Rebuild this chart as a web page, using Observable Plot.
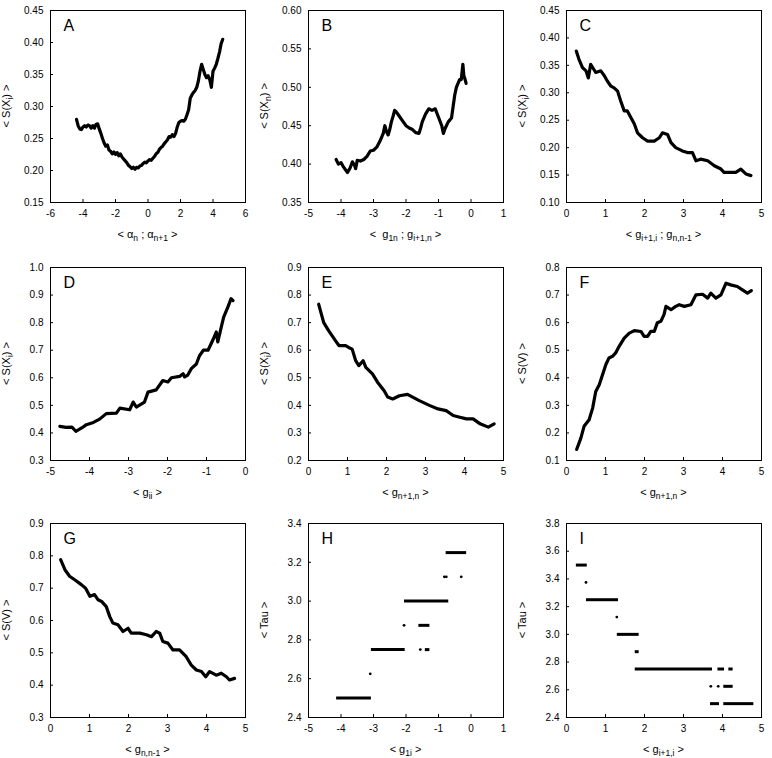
<!DOCTYPE html>
<html><head><meta charset="utf-8">
<script src="https://cdn.jsdelivr.net/npm/d3@7"></script>
<script src="https://cdn.jsdelivr.net/npm/@observablehq/plot@0.6"></script>
<style>
body{margin:0;background:#fff;}
#root{position:relative;width:772px;height:758px;background:#fff;}
.panel{position:absolute;}
</style></head>
<body><div id="root"></div>
<script>
// ---- tick values ----
const ticksX6 = [-6,-4,-2,0,2,4,6];
const ticksXneg5p1 = [-5,-4,-3,-2,-1,0,1];
const ticksXneg5 = [-5,-4,-3,-2,-1,0];
const ticksX05 = [0,1,2,3,4,5];
const ticksYA = [0.15,0.20,0.25,0.30,0.35,0.40,0.45];
const ticksYB = [0.35,0.40,0.45,0.50,0.55,0.60];
const ticksYC = [0.10,0.15,0.20,0.25,0.30,0.35,0.40,0.45];
const ticksYD = [0.3,0.4,0.5,0.6,0.7,0.8,0.9,1.0];
const ticksYE = [0.2,0.3,0.4,0.5,0.6,0.7,0.8,0.9];
const ticksYF = [0.1,0.2,0.3,0.4,0.5,0.6,0.7,0.8];
const ticksYG = [0.3,0.4,0.5,0.6,0.7,0.8,0.9];
const ticksYH = [2.4,2.6,2.8,3.0,3.2,3.4];
const ticksYI = [2.4,2.6,2.8,3.0,3.2,3.4,3.6,3.8];

// ---- panel A ----
const aX = [-4.40,-4.30,-4.20,-4.10,-4.00,-3.90,-3.80,-3.70,-3.60,-3.50,-3.40,-3.30,-3.20,-3.10,-3.00,-2.90,-2.80,-2.70,-2.60,-2.50,-2.40,-2.30,-2.20,-2.10,-2.00,-1.90,-1.80,-1.70,-1.60,-1.50,-1.40,-1.30,-1.20,-1.10,-1.00,-0.90,-0.80,-0.70,-0.60,-0.50,-0.40,-0.30,-0.20,-0.10,0.00,0.10,0.20,0.30,0.40,0.50,0.60,0.70,0.80,0.90,1.00,1.10,1.20,1.30,1.40,1.50,1.60,1.70,1.80,1.90,2.00,2.10,2.20,2.30,2.40,2.50,2.60,2.70,2.80,2.90,3.00,3.10,3.20,3.30,3.40,3.50,3.60,3.70,3.80,3.90,4.00,4.10,4.20,4.30,4.40,4.50,4.60];
const aY = [0.280,0.270,0.265,0.264,0.268,0.270,0.268,0.271,0.270,0.266,0.270,0.266,0.272,0.273,0.265,0.258,0.250,0.243,0.238,0.240,0.232,0.230,0.226,0.229,0.225,0.228,0.223,0.226,0.221,0.218,0.215,0.212,0.208,0.206,0.203,0.205,0.202,0.205,0.204,0.207,0.208,0.211,0.213,0.212,0.215,0.217,0.216,0.219,0.222,0.226,0.228,0.233,0.236,0.238,0.242,0.245,0.248,0.253,0.252,0.256,0.253,0.258,0.268,0.275,0.277,0.278,0.277,0.280,0.287,0.295,0.313,0.318,0.322,0.325,0.330,0.340,0.355,0.366,0.358,0.350,0.345,0.348,0.342,0.330,0.355,0.360,0.366,0.375,0.385,0.398,0.405];

// ---- panel B ----
const bX = [-4.15,-4.08,-4.00,-3.92,-3.85,-3.80,-3.72,-3.65,-3.58,-3.55,-3.50,-3.40,-3.30,-3.20,-3.10,-3.00,-2.90,-2.80,-2.70,-2.65,-2.60,-2.55,-2.50,-2.45,-2.40,-2.35,-2.30,-2.20,-2.10,-2.00,-1.90,-1.80,-1.70,-1.60,-1.55,-1.50,-1.40,-1.30,-1.20,-1.10,-1.00,-0.90,-0.85,-0.80,-0.70,-0.60,-0.55,-0.50,-0.45,-0.40,-0.35,-0.30,-0.25,-0.22,-0.18,-0.15];
const bY = [0.406,0.400,0.402,0.396,0.392,0.389,0.395,0.403,0.398,0.394,0.405,0.404,0.406,0.410,0.417,0.418,0.422,0.430,0.440,0.450,0.442,0.438,0.445,0.455,0.462,0.470,0.468,0.462,0.456,0.450,0.447,0.445,0.441,0.440,0.447,0.455,0.465,0.472,0.470,0.472,0.461,0.450,0.440,0.446,0.455,0.460,0.475,0.490,0.500,0.505,0.510,0.510,0.530,0.515,0.510,0.505];

// ---- panel C ----
const cX = [0.25,0.32,0.41,0.50,0.56,0.62,0.75,0.88,0.97,1.05,1.14,1.22,1.31,1.39,1.48,1.56,1.65,1.74,1.82,1.95,2.08,2.25,2.38,2.46,2.59,2.68,2.80,2.97,3.10,3.23,3.32,3.44,3.62,3.79,3.96,4.04,4.21,4.34,4.47,4.60,4.73];
const cY = [0.376,0.361,0.346,0.340,0.327,0.352,0.337,0.340,0.331,0.321,0.312,0.309,0.303,0.285,0.267,0.267,0.255,0.243,0.227,0.218,0.212,0.212,0.218,0.227,0.224,0.209,0.200,0.194,0.191,0.191,0.176,0.179,0.176,0.167,0.161,0.155,0.155,0.155,0.161,0.152,0.149];

// ---- panel D ----
const dX = [-4.76,-4.60,-4.45,-4.35,-4.20,-4.08,-3.90,-3.74,-3.57,-3.31,-3.22,-2.97,-2.88,-2.80,-2.59,-2.50,-2.29,-2.12,-1.99,-1.90,-1.69,-1.60,-1.56,-1.48,-1.39,-1.26,-1.18,-1.08,-0.96,-0.84,-0.75,-0.71,-0.62,-0.56,-0.45,-0.37,-0.32];
const dY = [0.424,0.420,0.421,0.406,0.418,0.430,0.438,0.450,0.470,0.472,0.490,0.484,0.512,0.494,0.512,0.548,0.556,0.590,0.585,0.600,0.605,0.615,0.603,0.610,0.633,0.650,0.680,0.700,0.700,0.736,0.766,0.730,0.785,0.820,0.857,0.887,0.880];

// ---- panel E ----
const eX = [0.26,0.33,0.39,0.52,0.69,0.78,0.95,1.03,1.12,1.21,1.29,1.40,1.47,1.64,1.77,1.94,2.03,2.16,2.33,2.54,2.67,2.84,3.10,3.32,3.53,3.71,3.88,4.05,4.22,4.40,4.61,4.76];
const eY = [0.767,0.731,0.700,0.670,0.635,0.617,0.617,0.610,0.604,0.562,0.544,0.562,0.538,0.514,0.484,0.453,0.430,0.423,0.435,0.440,0.430,0.417,0.400,0.387,0.381,0.363,0.357,0.351,0.351,0.333,0.321,0.333];

// ---- panel F ----
const fX = [0.26,0.37,0.45,0.58,0.67,0.75,0.84,1.01,1.09,1.18,1.26,1.35,1.48,1.61,1.74,1.91,1.99,2.08,2.16,2.25,2.33,2.42,2.50,2.55,2.68,2.80,2.89,3.02,3.19,3.32,3.49,3.62,3.70,3.83,3.96,4.09,4.21,4.38,4.51,4.64,4.74];
const fY = [0.140,0.182,0.224,0.248,0.290,0.350,0.375,0.448,0.472,0.478,0.490,0.514,0.544,0.562,0.571,0.568,0.550,0.550,0.568,0.568,0.600,0.605,0.629,0.659,0.647,0.659,0.665,0.659,0.665,0.701,0.703,0.689,0.707,0.689,0.701,0.743,0.737,0.731,0.719,0.707,0.716];

// ---- panel G ----
const gX = [0.26,0.37,0.49,0.62,0.79,0.90,1.01,1.13,1.22,1.31,1.43,1.52,1.60,1.73,1.86,1.99,2.07,2.29,2.46,2.59,2.71,2.80,2.88,3.01,3.14,3.31,3.48,3.61,3.74,3.87,3.98,4.08,4.25,4.38,4.51,4.59,4.72];
const gY = [0.788,0.757,0.737,0.726,0.711,0.700,0.675,0.680,0.664,0.659,0.643,0.612,0.592,0.587,0.566,0.576,0.561,0.561,0.556,0.550,0.566,0.561,0.535,0.530,0.509,0.509,0.488,0.462,0.447,0.442,0.426,0.442,0.431,0.437,0.426,0.416,0.421];

// ---- panel H (Tau levels) ----
const hLevel = [2.5,2.75,2.75,2.875,3.0,3.25];
const hStart = [-4.15,-3.08,-1.42,-1.62,-2.06,-0.78];
const hEnd   = [-3.08,-2.04,-1.28,-1.28,-0.70,-0.15];
const hDotX = [-3.10,-2.06,-1.56,-0.82,-0.76,-0.30];
const hDotY = [2.625,2.875,2.75,3.125,3.125,3.125];

// ---- panel I (Tau levels) ----
const iLevel = [3.5,3.25,3.0,2.875,2.75,2.75,2.75,2.625,2.5,2.5];
const iStart = [0.24,0.50,1.29,1.75,1.75,3.87,4.15,4.02,3.68,4.02];
const iEnd   = [0.52,1.32,1.85,1.85,3.73,4.04,4.26,4.26,3.91,4.79];
const iDotX = [0.50,1.29,3.70,3.89];
const iDotY = [3.375,3.125,2.625,2.625];

const FONT = "'Liberation Sans', Arial, Helvetica, sans-serif";

function fmt(dec){ return d => d.toFixed(dec); }

function panel(cfg){
  const fw = 195, fh = cfg.fh;
  const ML = 50, MT = 8, MR = 8, MB = 48;
  const line = (X, Y) => Plot.line(Y, {x: X, y: Y, stroke: "#000", strokeWidth: 3.2, strokeLinejoin: "round", strokeLinecap: "round"});
  const marks = [];
  if (cfg.lx) marks.push(line(cfg.lx, cfg.ly));
  if (cfg.segY) marks.push(Plot.link(cfg.segY, {x1: cfg.segX1, x2: cfg.segX2, y1: cfg.segY, y2: cfg.segY, stroke: "#000", strokeWidth: 3}));
  if (cfg.dotY) marks.push(Plot.dot(cfg.dotY, {x: cfg.dotX, y: cfg.dotY, r: 1.4, fill: "#000", stroke: "none"}));
  const svg = Plot.plot({
    width: ML + fw + MR, height: MT + fh + MB,
    marginLeft: ML, marginTop: MT, marginRight: MR, marginBottom: MB,
    style: {fontFamily: FONT, fontSize: "10px", color: "#000", background: "#fff", overflow: "visible"},
    x: {domain: cfg.xd, label: null},
    y: {domain: cfg.yd, label: null},
    marks: [
      Plot.axisX({ticks: cfg.xt, tickSize: -3, tickFormat: () => "", label: null}),
      Plot.axisX({ticks: cfg.xt, tickSize: 0, tickPadding: 7, tickFormat: d => String(d), label: null}),
      Plot.axisY({ticks: cfg.yt, tickSize: -3, tickFormat: () => "", label: null}),
      Plot.axisY({ticks: cfg.yt, tickSize: 0, tickPadding: 7, tickFormat: cfg.yf, label: null}),
      ...marks,
      Plot.frame({stroke: "#000", strokeWidth: 1}),
      Plot.text([cfg.letter], {text: d => d, frameAnchor: "top-left", dx: 13, dy: 9, fontSize: 16, textAnchor: "start", lineAnchor: "top"})
    ]
  });
  const s = d3.select(svg);
  function addLabel(parts, x, y, rotate){
    const t = s.append("text")
      .attr("font-family", FONT).attr("font-size", 11).attr("fill", "#000")
      .attr("text-anchor", "middle")
      .attr("transform", `translate(${x},${y})` + (rotate ? " rotate(-90)" : ""));
    let sub = false;
    for (const [str, isSub] of parts){
      const ts = t.append("tspan").text(str);
      if (isSub && !sub){ ts.attr("dy", 3).attr("font-size", 8.5); sub = true; }
      else if (isSub){ ts.attr("font-size", 8.5); }
      else if (!isSub && sub){ ts.attr("dy", -3); sub = false; }
    }
  }
  addLabel(cfg.xlab, ML + fw/2, MT + fh + 36, false);
  addLabel(cfg.ylab, ML - 40, MT + fh/2, true);
  const div = document.createElement("div");
  div.className = "panel";
  div.style.left = (cfg.left - ML) + "px";
  div.style.top = (cfg.top - MT) + "px";
  div.appendChild(svg);
  document.getElementById("root").appendChild(div);
}

const colL = [50, 308, 566];
const rowT = [10, 267, 523];
const rowH = [192, 193, 194];

panel({left: colL[0], top: rowT[0], fh: rowH[0], letter: "A", xd: [-6,6], xt: ticksX6, yd: [0.15,0.45], yt: ticksYA, yf: fmt(2),
  lx: aX, ly: aY,
  xlab: [["< α",0],["n",1],[" ; α",0],["n+1",1],[" >",0]], ylab: [["< S(X",0],["i",1],[") >",0]]});
panel({left: colL[1], top: rowT[0], fh: rowH[0], letter: "B", xd: [-5,1], xt: ticksXneg5p1, yd: [0.35,0.60], yt: ticksYB, yf: fmt(2),
  lx: bX, ly: bY,
  xlab: [["<  g",0],["1n",1],[" ; g",0],["i+1,n",1],[" >",0]], ylab: [["< S(X",0],["n",1],[") >",0]]});
panel({left: colL[2], top: rowT[0], fh: rowH[0], letter: "C", xd: [0,5], xt: ticksX05, yd: [0.10,0.45], yt: ticksYC, yf: fmt(2),
  lx: cX, ly: cY,
  xlab: [["< g",0],["i+1,i",1],[" ; g",0],["n,n-1",1],[" >",0]], ylab: [["< S(X",0],["i",1],[") >",0]]});
panel({left: colL[0], top: rowT[1], fh: rowH[1], letter: "D", xd: [-5,0], xt: ticksXneg5, yd: [0.3,1.0], yt: ticksYD, yf: fmt(1),
  lx: dX, ly: dY,
  xlab: [["< g",0],["ii",1],[" >",0]], ylab: [["< S(X",0],["i",1],[") >",0]]});
panel({left: colL[1], top: rowT[1], fh: rowH[1], letter: "E", xd: [0,5], xt: ticksX05, yd: [0.2,0.9], yt: ticksYE, yf: fmt(1),
  lx: eX, ly: eY,
  xlab: [["< g",0],["n+1,n",1],[" >",0]], ylab: [["< S(X",0],["i",1],[") >",0]]});
panel({left: colL[2], top: rowT[1], fh: rowH[1], letter: "F", xd: [0,5], xt: ticksX05, yd: [0.1,0.8], yt: ticksYF, yf: fmt(1),
  lx: fX, ly: fY,
  xlab: [["< g",0],["n+1,n",1],[" >",0]], ylab: [["< S(V) >",0]]});
panel({left: colL[0], top: rowT[2], fh: rowH[2], letter: "G", xd: [0,5], xt: ticksX05, yd: [0.3,0.9], yt: ticksYG, yf: fmt(1),
  lx: gX, ly: gY,
  xlab: [["< g",0],["n,n-1",1],[" >",0]], ylab: [["< S(V) >",0]]});
panel({left: colL[1], top: rowT[2], fh: rowH[2], letter: "H", xd: [-5,1], xt: ticksXneg5p1, yd: [2.4,3.4], yt: ticksYH, yf: fmt(1),
  segY: hLevel, segX1: hStart, segX2: hEnd, dotX: hDotX, dotY: hDotY,
  xlab: [["< g",0],["1i",1],[" >",0]], ylab: [["< Tau >",0]]});
panel({left: colL[2], top: rowT[2], fh: rowH[2], letter: "I", xd: [0,5], xt: ticksX05, yd: [2.4,3.8], yt: ticksYI, yf: fmt(1),
  segY: iLevel, segX1: iStart, segX2: iEnd, dotX: iDotX, dotY: iDotY,
  xlab: [["< g",0],["i+1,i",1],[" >",0]], ylab: [["< Tau >",0]]});
</script>
</body></html>
